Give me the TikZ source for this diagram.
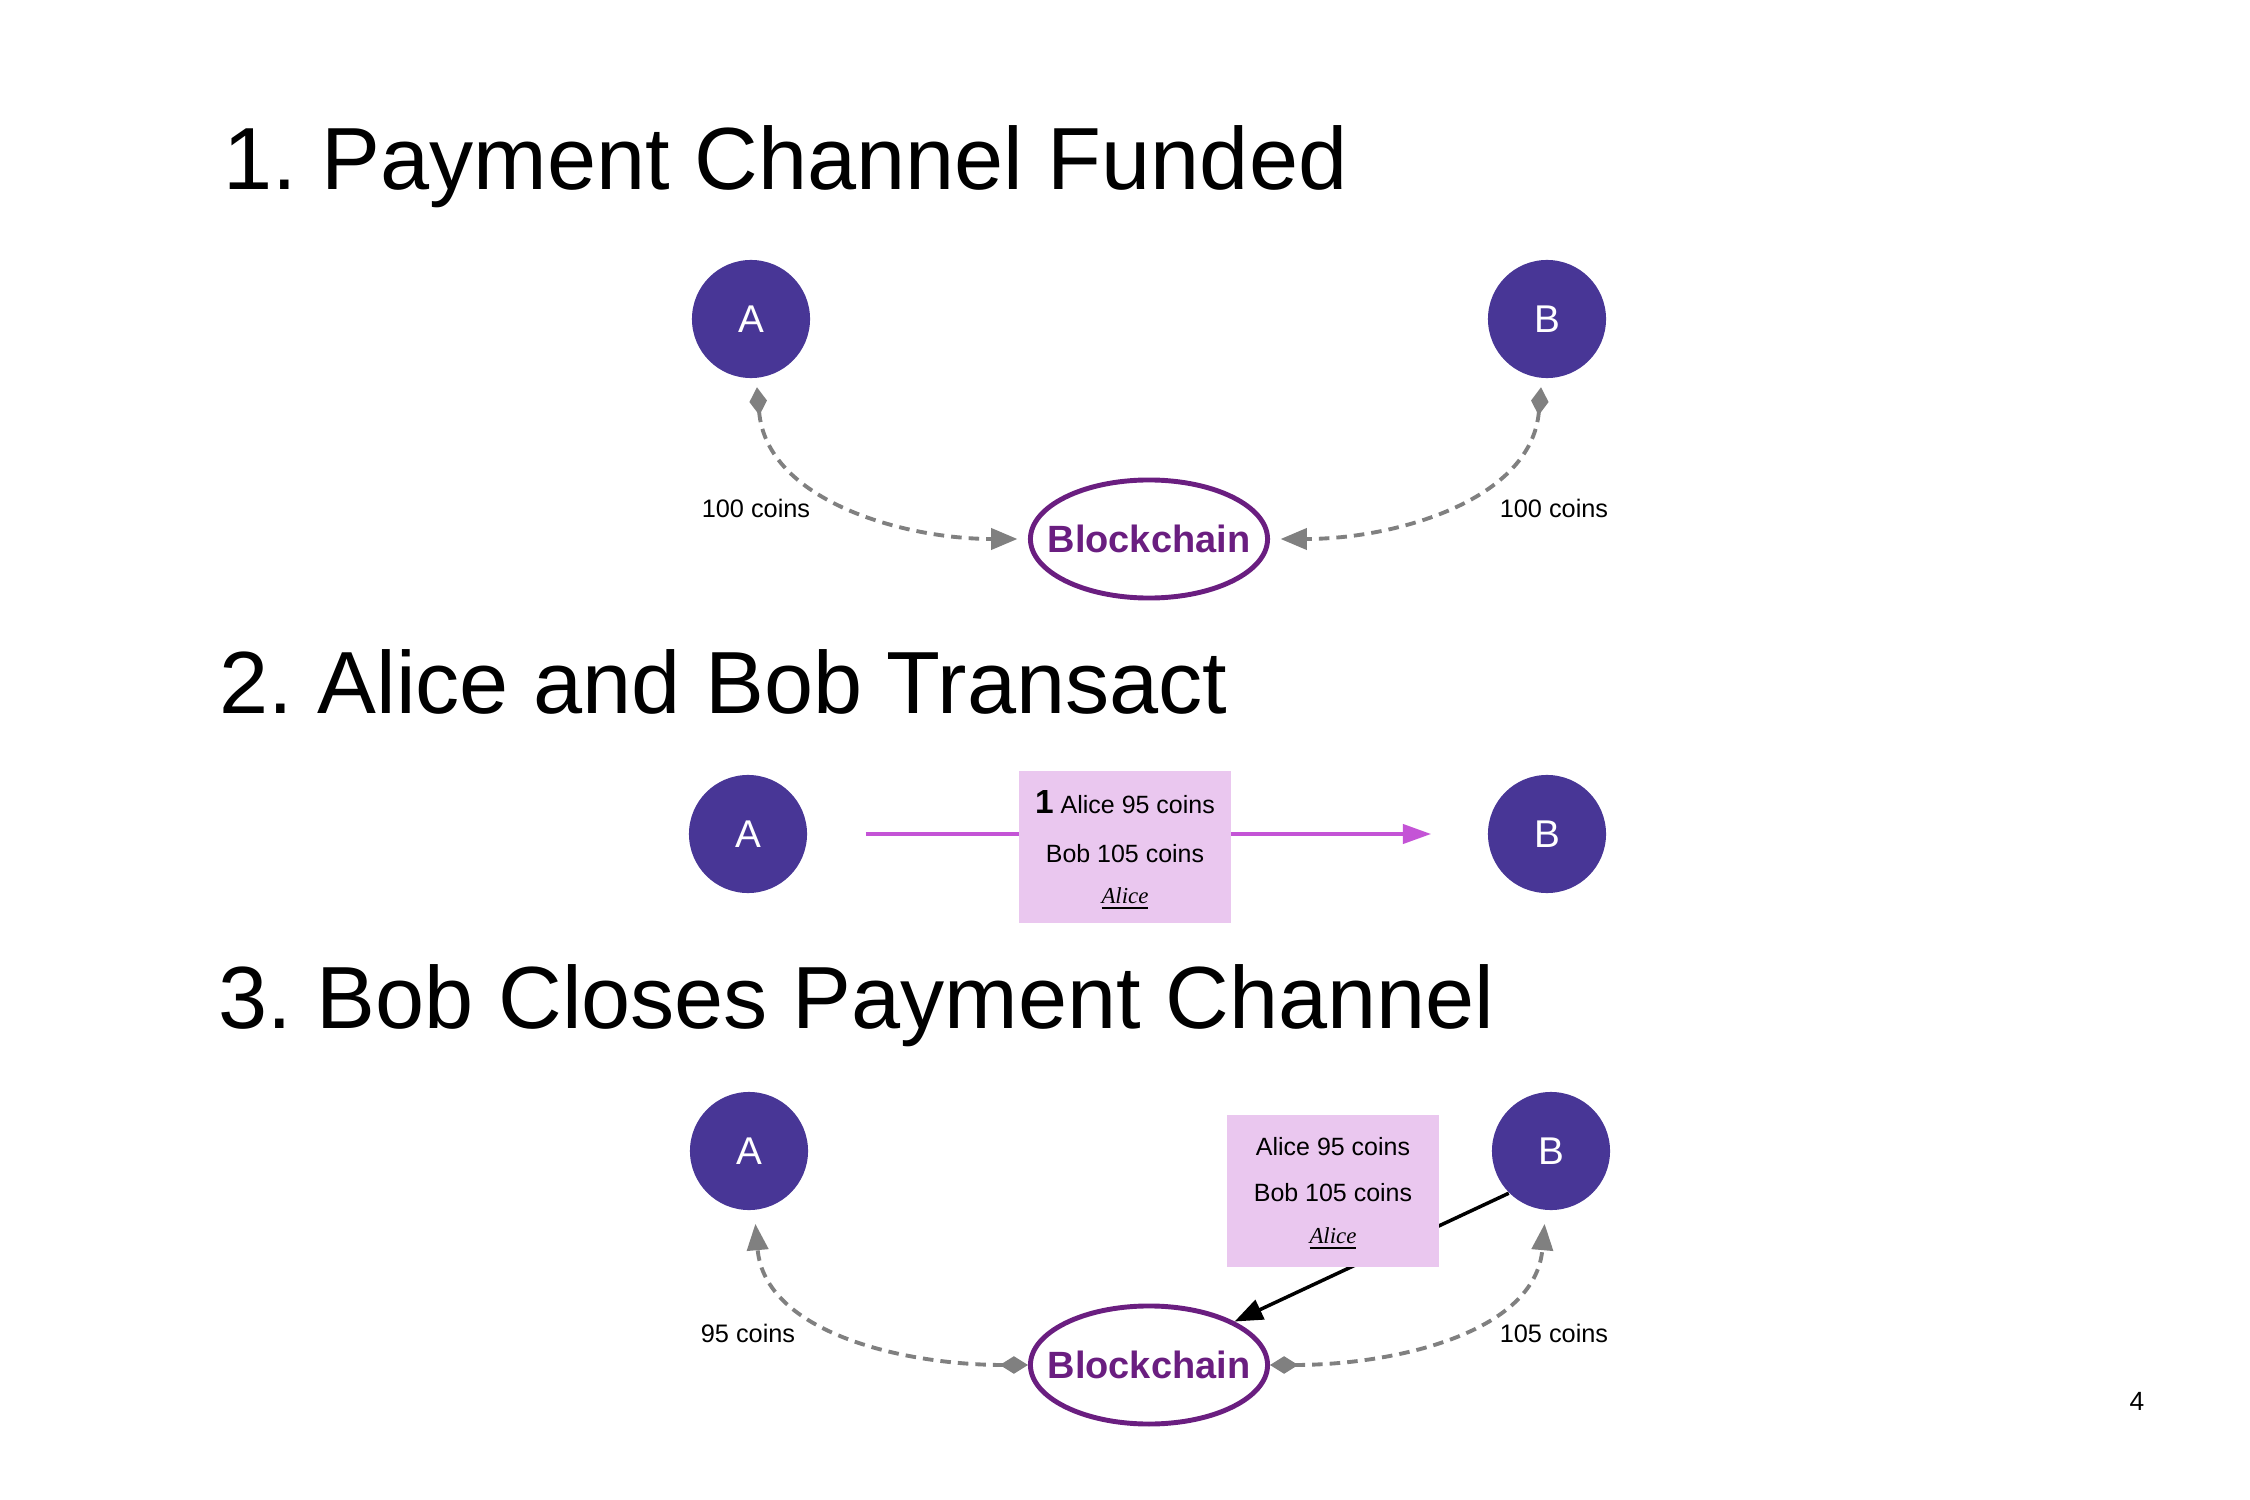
\documentclass[tikz,border=0pt]{standalone}
\usepackage{fontspec}
\setmainfont{Liberation Sans}
\newfontfamily\sigfont{Liberation Serif}
\usetikzlibrary{arrows.meta,shapes.geometric}
\definecolor{party}{RGB}{72,54,150}
\definecolor{chain}{RGB}{106,30,128}
\definecolor{flow}{RGB}{196,84,214}
\definecolor{note}{RGB}{234,199,239}
\definecolor{fund}{RGB}{128,128,128}

\tikzset{
  diatip/.tip={Diamond[length=8pt,width=5pt,fill=fund]},
  tritip/.tip={Triangle[length=7.5pt,width=6pt,fill=fund]},
}

\begin{document}
\frenchspacing
\begin{tikzpicture}[x=0.01cm,y=0.01cm,
  party/.style={circle, fill=party, minimum size=1.18cm, inner sep=0pt,
    text=white, font=\fontsize{11}{13}\selectfont},
  chainnode/.style={ellipse, draw=chain, line width=1.4pt, minimum width=2.37cm,
    minimum height=1.18cm, inner sep=0pt, text=chain,
    font=\bfseries\fontsize{10.8}{13}\selectfont},
  heading/.style={anchor=base west, inner sep=0pt, font=\fontsize{25.1}{30}\selectfont},
  amount/.style={inner sep=0pt, font=\fontsize{7.2}{9}\selectfont},
  fundline/.style={draw=fund, dash pattern=on 3pt off 2pt, line width=1.1pt},
  notebox/.style={rectangle, fill=note, minimum width=2.12cm, minimum height=1.51cm,
    inner sep=0pt},
  noteline/.style={anchor=base, inner sep=0pt, font=\fontsize{7.1}{9}\selectfont},
  signline/.style={anchor=base, inner sep=0pt,
    font=\sigfont\itshape\fontsize{6.5}{8}\selectfont}
]
\useasboundingbox[fill=white] (0,0) rectangle (2250,-1500);

% ---------- 1. funding ----------
\node[heading] (t1) at (223,-190) {1. Payment Channel Funded};
\node[party] (A1) at (751,-319) {A};
\node[party] (B1) at (1547,-319) {B};
\node[chainnode] (BC1) at (1149,-539) {\makebox[0pt]{Blockchain}};
\draw[fundline, diatip-tritip, shorten <=2.5pt, shorten >=3pt]
  (A1) to[out=-85, in=180] (BC1);
\draw[fundline, diatip-tritip, shorten <=2.5pt, shorten >=3pt]
  (B1) to[out=-95, in=0] (BC1);
\node[amount] (l1a) at (756,-508) {100 coins};
\node[amount] (l1b) at (1554,-508) {100 coins};

% ---------- 2. off-chain transaction ----------
\node[heading] (t2) at (219,-713) {2. Alice and Bob Transact};
\node[party] (A2) at (748,-834) {A};
\node[party] (B2) at (1547,-834) {B};
\draw[draw=flow, line width=0.9pt, -{Triangle[length=8pt,width=5.5pt,fill=flow]},
  shorten <=16.5pt, shorten >=16pt] (A2) -- (B2);
\node[notebox] (n2) at (1125,-847) {};
\node[noteline] (n2a) at (1125,-813)
  {{\bfseries\fontsize{9.5}{11}\selectfont 1}\ Alice 95 coins};
\node[noteline] (n2b) at (1125,-862) {Bob 105 coins};
\node[signline] (n2c) at (1125,-903) {\underline{Alice}};

% ---------- 3. settlement ----------
\node[heading] (t3) at (218,-1028) {3. Bob Closes Payment Channel};
\node[party] (A3) at (749,-1151) {A};
\node[party] (B3) at (1551,-1151) {B};
\node[chainnode] (BC3) at (1149,-1365) {\makebox[0pt]{Blockchain}};
\draw[fundline, diatip-tritip, shorten >=3.8pt]
  (BC3) to[out=180, in=-85] (A3);
\draw[fundline, diatip-tritip, shorten >=3.8pt]
  (BC3) to[out=0, in=-95] (B3);
\node[amount] (l3a) at (748,-1333) {95 coins};
\node[amount] (l3b) at (1554,-1333) {105 coins};
\draw[line width=1pt, -{Triangle[length=8pt,width=6pt]}] (B3.225) -- (BC3.north east);
\node[notebox] (n3) at (1333,-1191) {};
\node[noteline] (n3a) at (1333,-1155) {Alice 95 coins};
\node[noteline] (n3b) at (1333,-1201) {Bob 105 coins};
\node[signline] (n3c) at (1333,-1243) {\underline{Alice}};

% page number
\node[inner sep=0pt, font=\fontsize{7.5}{9}\selectfont] (pg) at (2137,-1401) {4};
\end{tikzpicture}
\end{document}
